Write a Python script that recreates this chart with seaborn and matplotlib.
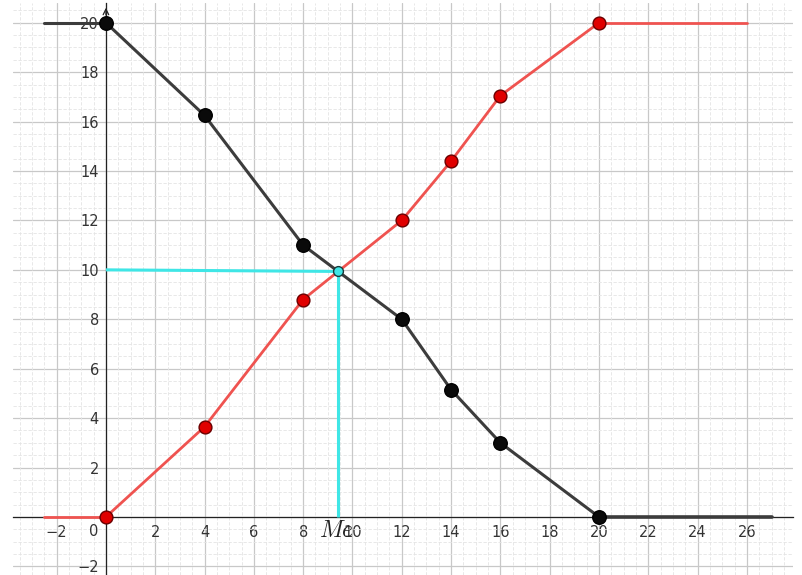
import numpy as np
import pandas as pd
import seaborn as sns
import matplotlib
matplotlib.use("Agg")
import matplotlib.pyplot as plt
from matplotlib.ticker import MultipleLocator, FixedLocator

# Class boundaries and cumulative frequencies
bounds = [0, 4, 8, 12, 14, 16, 20]
cum_less = [0, 3.65, 8.8, 12, 14.4, 17.05, 20]        # increasing ogive
cum_more = [20, 16.25, 11, 8, 5.15, 3, 0]             # decreasing ogive
total = 20

# Flat parts of each ogive outside the data range
less_tail_left_x = [-2.5, 0]
less_tail_right_x = [20, 26]
more_tail_left_x = [-2.5, 0]
more_tail_right_x = [20, 27]

x_ticks = [-2, 2, 4, 6, 8, 10, 12, 14, 16, 18, 20, 22, 24, 26]
y_ticks = [-2, 2, 4, 6, 8, 10, 12, 14, 16, 18, 20]

RED_LINE = "#ef5350"
RED_PT = "#e00000"
DARK_LINE = "#3c3c3c"
CYAN = "#3fe6e6"

sns.set_style("white")
plt.rcParams["font.family"] = ["DejaVu Sans"]
plt.rcParams["mathtext.fontset"] = "cm"

fig = plt.figure(figsize=(8.03, 5.75), dpi=100)
ax = fig.add_axes([13 / 803, 0, 780 / 803, 572 / 575])
ax.set_xlim(-3.77, 27.87)
ax.set_ylim(-2.35, 20.8)

# grid: major every 2, minor every 0.5
ax.xaxis.set_major_locator(FixedLocator(x_ticks))
ax.yaxis.set_major_locator(FixedLocator(y_ticks))
ax.xaxis.set_minor_locator(MultipleLocator(0.5))
ax.yaxis.set_minor_locator(MultipleLocator(0.5))
for v in np.arange(-4, 29, 2):
    ax.axvline(v, color="#c8c8c8", lw=0.9, zorder=0)
for v in np.arange(-2, 22, 2):
    ax.axhline(v, color="#c8c8c8", lw=0.9, zorder=0)
ax.grid(which="minor", color="#e4e4e4", lw=0.6, ls=(0, (4, 2)), zorder=0)

# axes through the origin
for side in ("top", "right"):
    ax.spines[side].set_visible(False)
ax.spines["left"].set_position(("data", 0))
ax.spines["bottom"].set_position(("data", 0))
for side in ("left", "bottom"):
    ax.spines[side].set_color("#222222")
    ax.spines[side].set_linewidth(0.9)
    ax.spines[side].set_zorder(1)
ax.tick_params(which="both", length=0, labelsize=10.5, labelcolor="#333333")
ax.tick_params(axis="x", pad=6)
ax.tick_params(axis="y", pad=5)
ax.text(-0.5, -0.28, "0", fontsize=10.5, color="#333333",
        ha="center", va="top")
ax.annotate("", xy=(0, 20.72), xytext=(0, 20.2),
            arrowprops=dict(arrowstyle="->", color="#222222", lw=0.9,
                            mutation_scale=10), zorder=1)

# decreasing ogive
more = pd.DataFrame({"x": bounds, "y": cum_more})
sns.lineplot(data=pd.DataFrame({"x": more_tail_left_x, "y": [cum_more[0]] * 2}),
             x="x", y="y", color=DARK_LINE, lw=2.2, ax=ax, zorder=3)
sns.lineplot(data=pd.DataFrame({"x": more_tail_right_x, "y": [cum_more[-1]] * 2}),
             x="x", y="y", color=DARK_LINE, lw=2.6, ax=ax, zorder=3)
sns.lineplot(data=more, x="x", y="y", color=DARK_LINE, lw=2.2,
             estimator=None, sort=False, ax=ax, zorder=3)

# increasing ogive
less = pd.DataFrame({"x": bounds, "y": cum_less})
sns.lineplot(data=pd.DataFrame({"x": less_tail_left_x, "y": [cum_less[0]] * 2}),
             x="x", y="y", color=RED_LINE, lw=2.0, ax=ax, zorder=4)
sns.lineplot(data=pd.DataFrame({"x": less_tail_right_x, "y": [cum_less[-1]] * 2}),
             x="x", y="y", color=RED_LINE, lw=2.0, ax=ax, zorder=4)
sns.lineplot(data=less, x="x", y="y", color=RED_LINE, lw=2.0,
             estimator=None, sort=False, ax=ax, zorder=4)

# median: intersection of the two ogives
me_x, me_y = None, None
for i in range(len(bounds) - 1):
    d0 = cum_less[i] - cum_more[i]
    d1 = cum_less[i + 1] - cum_more[i + 1]
    if d0 <= 0 <= d1 and d1 != d0:
        t = -d0 / (d1 - d0)
        me_x = bounds[i] + t * (bounds[i + 1] - bounds[i])
        me_y = cum_less[i] + t * (cum_less[i + 1] - cum_less[i])
        break

ax.plot([0, me_x], [total / 2, me_y], color=CYAN, lw=2.2, zorder=5,
        solid_capstyle="butt")
ax.plot([me_x, me_x], [me_y, 0], color=CYAN, lw=2.2, zorder=5,
        solid_capstyle="butt")

sns.scatterplot(data=more, x="x", y="y", color="#0a0a0a", s=95,
                edgecolor="#000000", linewidth=1, ax=ax, zorder=6)
sns.scatterplot(data=less, x="x", y="y", color=RED_PT, s=85,
                edgecolor="#6a0000", linewidth=1, ax=ax, zorder=7)
ax.scatter([me_x], [me_y], s=50, color=CYAN, edgecolor="#1a3a3a",
           linewidth=1, zorder=8)

ax.text(me_x - 0.05, -0.82, r"$Me$", fontsize=17, ha="center", va="baseline",
        color="#222222", zorder=9)

ax.set_xlabel("")
ax.set_ylabel("")

fig.savefig("out.png", dpi=100, facecolor="white")
